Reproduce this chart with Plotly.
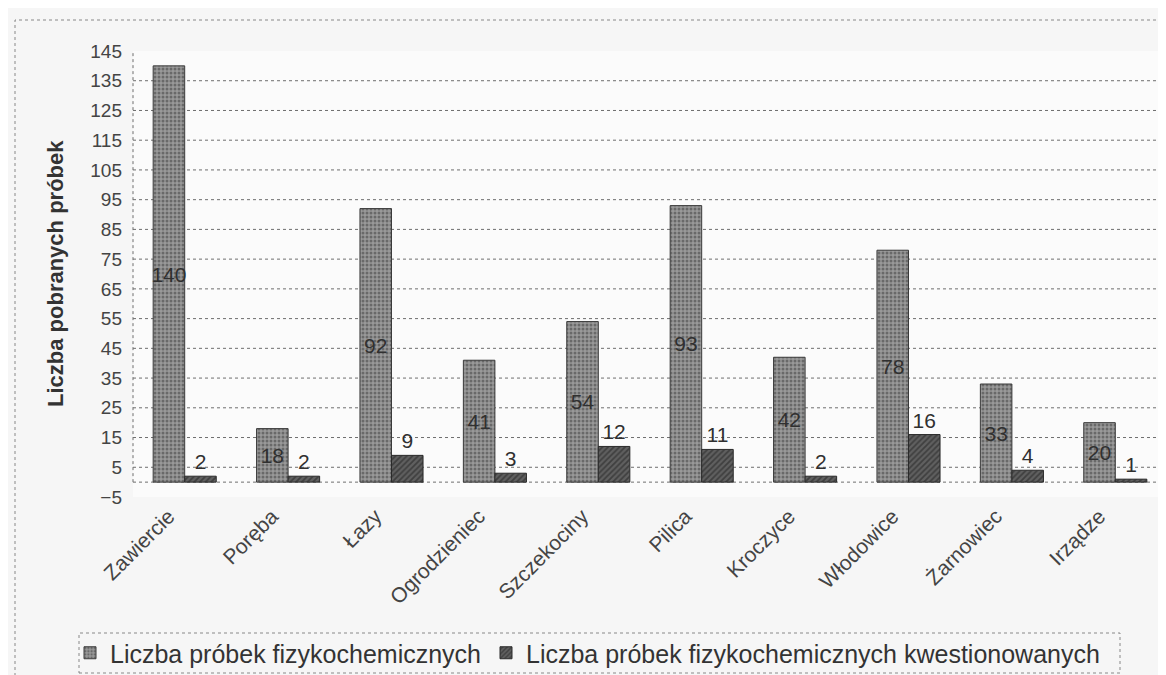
import plotly.graph_objects as go

categories = ["Zawiercie", "Poręba", "Łazy", "Ogrodzieniec", "Szczekociny",
              "Pilica", "Kroczyce", "Włodowice", "Żarnowiec", "Irządze"]
probki = [140, 18, 92, 41, 54, 93, 42, 78, 33, 20]
kwestionowane = [2, 2, 9, 3, 12, 11, 2, 16, 4, 1]
series_names = ["Liczba próbek fizykochemicznych",
                "Liczba próbek fizykochemicznych kwestionowanych"]
y_ticks = list(range(-5, 146, 10))
y_title = "Liczba pobranych próbek"

W, H = 1166, 675
L, R, T, B = 125, 7, 43, 186
pw, ph = W - L - R, H - T - B

def px(x):
    return (x - L) / pw

def py(y):
    return (H - B - y) / ph

FONT = "Liberation Sans, Arial, sans-serif"

fig = go.Figure()
fig.add_trace(go.Bar(
    x=categories, y=probki, name=series_names[0],
    marker=dict(color="#858585", line=dict(color="#3a3a3a", width=1),
                pattern=dict(shape=".", fgcolor="#3a3a3a", bgcolor="#999999", size=4, solidity=0.45)),
    text=probki, textposition="inside", insidetextanchor="middle", textangle=0,
    textfont=dict(size=21, color="#303030", family=FONT),
))
fig.add_trace(go.Bar(
    x=categories, y=kwestionowane, name=series_names[1],
    marker=dict(color="#444444", line=dict(color="#2a2a2a", width=1),
                pattern=dict(shape="/", fgcolor="#1e1e1e", bgcolor="#606060", size=4, solidity=0.45)),
    text=kwestionowane, textposition="outside", textangle=0,
    textfont=dict(size=21, color="#303030", family=FONT),
))

fig.update_layout(
    width=W, height=H,
    margin=dict(l=L, r=R, t=T, b=B, autoexpand=False),
    paper_bgcolor="#f6f6f6", plot_bgcolor="#fbfbfb",
    barmode="group", bargap=0.39, bargroupgap=0.0,
    font=dict(family=FONT, size=19, color="#333333"),
    legend=dict(orientation="h", x=px(62), y=py(645), xanchor="left", yanchor="middle",
                font=dict(size=25, color="#333333", family=FONT), bgcolor="rgba(0,0,0,0)",
                itemwidth=30, traceorder="normal", tracegroupgap=0),
    showlegend=True,
)
fig.update_traces(cliponaxis=False, constraintext="none")
fig.update_xaxes(tickangle=-45, showgrid=False, showline=False, ticks="", automargin=False,
                 tickfont=dict(size=21, color="#444444"), ticklabelshift=-16, ticklabelstandoff=2)
fig.update_yaxes(range=[-5, 145], tickvals=y_ticks, showgrid=False, automargin=False,
                 zeroline=False, showline=False, ticks="", ticklabelstandoff=10,
                 tickfont=dict(size=19, color="#444444"))

# gridlines at inner tick values, plus baseline at zero
for v in y_ticks[1:-1] + [0]:
    fig.add_shape(type="line", xref="paper", yref="y", x0=0, x1=1, y0=v, y1=v,
                  line=dict(color="#6e6e6e", width=1, dash="dot"), layer="below")
# y axis line
fig.add_shape(type="line", xref="paper", yref="y", x0=0, x1=0, y0=0, y1=y_ticks[-1],
              line=dict(color="#6e6e6e", width=1, dash="dot"), layer="below")

# y title
fig.add_annotation(text=f"<b>{y_title}</b>", xref="paper", yref="paper",
                   x=px(47), y=py(266), textangle=-90, showarrow=False,
                   font=dict(size=22, color="#333333", family=FONT),
                   xanchor="center", yanchor="middle")

# outer dotted border and legend box
fig.add_shape(type="rect", xref="paper", yref="paper",
              x0=px(7), x1=px(1172), y0=py(671), y1=py(12),
              line=dict(color="#888888", width=1, dash="dot"))
fig.add_shape(type="rect", xref="paper", yref="paper",
              x0=px(71), x1=px(1112), y0=py(665), y1=py(625),
              line=dict(color="#888888", width=1, dash="dot"))

fig.write_html("out.html")
